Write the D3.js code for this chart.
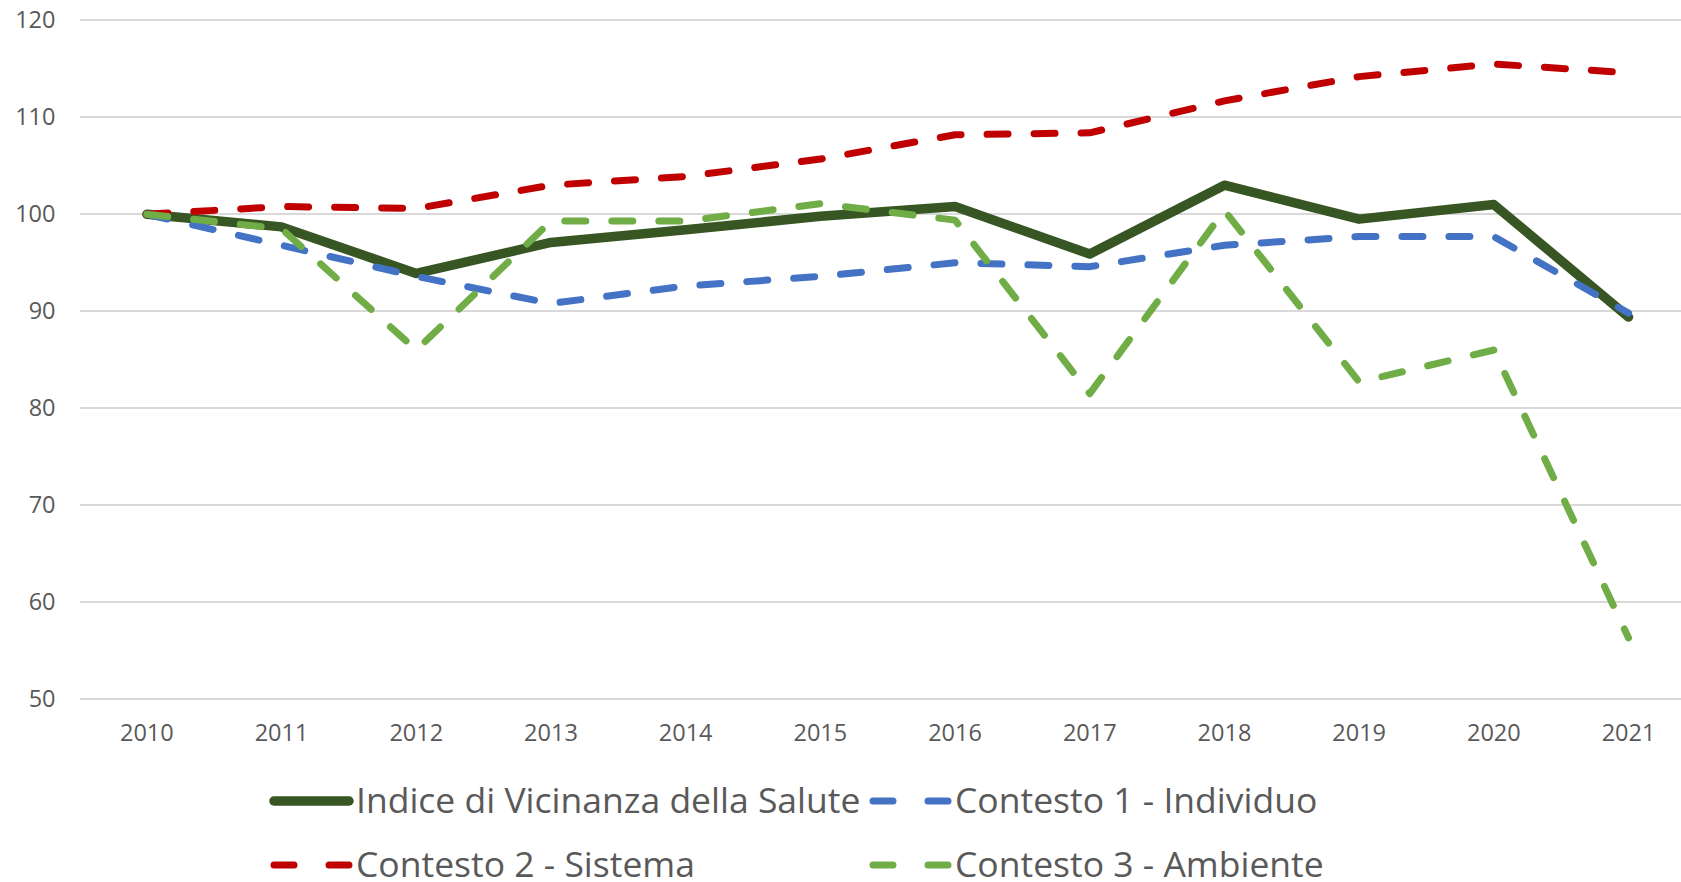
<!DOCTYPE html>
<head>
  <meta charset="utf-8">
  <script src="https://d3js.org/d3.v7.min.js"></script>
  <style>
    body { margin: 0; background: #fff; }
    svg { display: block; font-family: 'Open Sans', sans-serif; }
    .grid line { stroke: #d9d9d9; stroke-width: 2; shape-rendering: crispEdges; }
    .axis text { fill: #595959; font-size: 23.5px; font-family: 'Open Sans', sans-serif; }
    .legend text { fill: #595959; font-size: 35.5px; }
    .line { fill: none; stroke-linejoin: round; }
  </style>
</head>
<body>
<svg width="1681" height="882"></svg>
<script>

var years = ["2010","2011","2012","2013","2014","2015","2016","2017","2018","2019","2020","2021"];
var yTicks = [50, 60, 70, 80, 90, 100, 110, 120];

var indice    = [100, 98.7, 93.9, 97.1, 98.4, 99.8, 100.8, 95.9, 103.0, 99.5, 101.0, 89.4];
var contesto1 = [100, 96.8, 93.6, 90.8, 92.6, 93.6, 95.0, 94.6, 96.8, 97.7, 97.7, 89.8];
var contesto2 = [100, 100.8, 100.6, 103.0, 103.9, 105.7, 108.2, 108.4, 111.7, 114.2, 115.5, 114.6];
var contesto3 = [100, 98.5, 86.0, 99.3, 99.3, 101.1, 99.4, 81.5, 100.4, 82.7, 86.0, 56.3];

var seriesNames = ["Indice di Vicinanza della Salute", "Contesto 1 - Individuo",
                   "Contesto 2 - Sistema", "Contesto 3 - Ambiente"];
var seriesColors = ["#375623", "#4472c4", "#c00000", "#70ad47"];

var series = [
  {name: seriesNames[0], values: indice,    color: seriesColors[0], width: 9.5, dash: null},
  {name: seriesNames[1], values: contesto1, color: seriesColors[1], width: 7, dash: "21 26"},
  {name: seriesNames[2], values: contesto2, color: seriesColors[2], width: 7, dash: "21 26"},
  {name: seriesNames[3], values: contesto3, color: seriesColors[3], width: 7, dash: "21 26"}
];

var svg = d3.select("svg");
var plotLeft = 79.5, bandW = 134.7;
var plotTop = 20.4, plotBottom = 699;

var x = d3.scaleBand()
    .domain(years)
    .range([plotLeft, plotLeft + bandW * years.length]);

var y = d3.scaleLinear()
    .domain([50, 120])
    .range([plotBottom, plotTop]);

// gridlines
svg.append("g")
    .attr("class", "grid")
    .selectAll("line")
    .data(yTicks)
    .enter().append("line")
    .attr("x1", plotLeft)
    .attr("x2", 1681)
    .attr("y1", function(d) { return Math.round(y(d)); })
    .attr("y2", function(d) { return Math.round(y(d)); });

// y axis labels
var yAxis = svg.append("g")
    .attr("class", "axis")
    .attr("transform", "translate(" + (plotLeft - 24) + ",0)")
    .call(d3.axisLeft(y).tickValues(yTicks).tickSize(0).tickPadding(0));
yAxis.select(".domain").remove();

// x axis labels
var xAxis = svg.append("g")
    .attr("class", "axis")
    .attr("transform", "translate(0," + (plotBottom + 25) + ")")
    .call(d3.axisBottom(x).tickSize(0).tickPadding(0));
xAxis.select(".domain").remove();

var line = d3.line()
    .x(function(d, i) { return x(years[i]) + x.bandwidth() / 2; })
    .y(function(d) { return y(d); });

series.forEach(function(s) {
  svg.append("path")
      .attr("class", "line")
      .attr("d", line(s.values))
      .attr("stroke", s.color)
      .attr("stroke-width", s.width)
      .attr("stroke-linecap", "round")
      .attr("stroke-dasharray", s.dash);
});

// legend
var legendPos = [
  {x: 271, y: 801}, {x: 870, y: 801},
  {x: 271, y: 865}, {x: 870, y: 865}
];
var legend = svg.append("g").attr("class", "legend");
series.forEach(function(s, i) {
  var p = legendPos[i];
  legend.append("line")
      .attr("x1", p.x + 3).attr("x2", p.x + 78)
      .attr("y1", p.y).attr("y2", p.y)
      .attr("stroke", s.color)
      .attr("stroke-width", s.dash ? 7 : 9.5)
      .attr("stroke-linecap", "round")
      .attr("stroke-dasharray", s.dash ? "20 35" : null);
  legend.append("text")
      .attr("x", p.x + 85)
      .attr("y", p.y)
      .attr("dy", "0.35em")
      .text(s.name);
});
</script>
</body>
